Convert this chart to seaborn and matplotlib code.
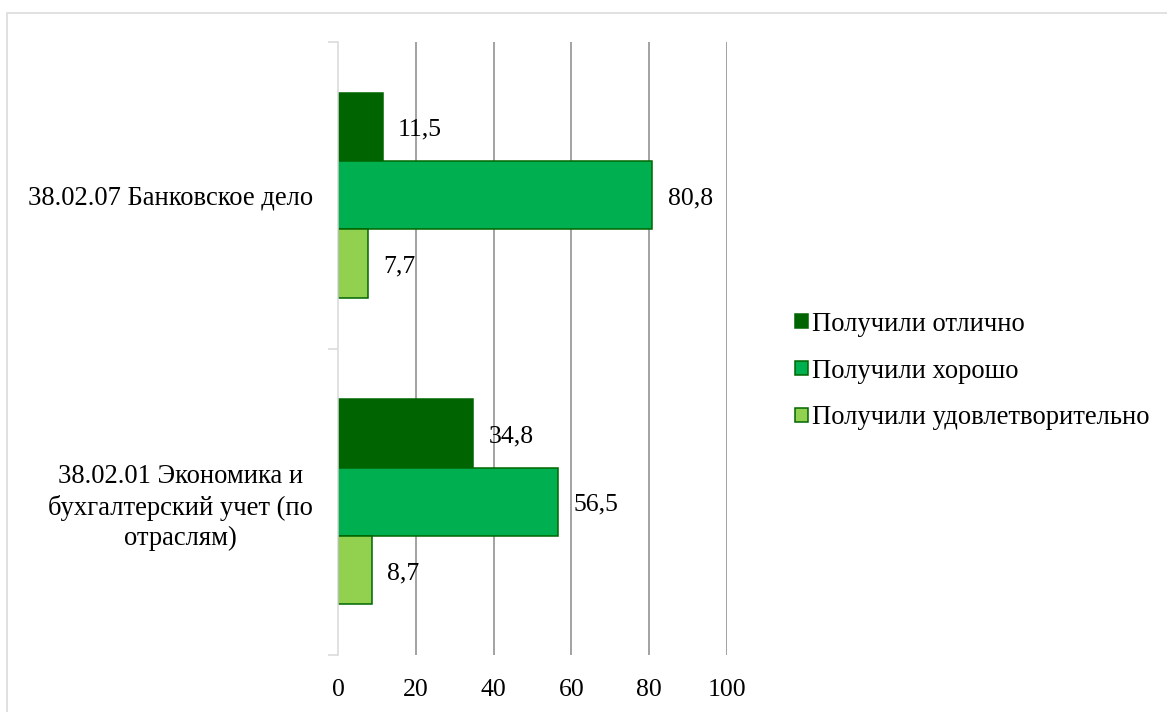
import pandas as pd
import matplotlib.pyplot as plt
import seaborn as sns
from matplotlib.patches import Rectangle
from matplotlib.ticker import FixedLocator

# ===== Data =====
categories = ["38.02.07 Банковское дело",
              "38.02.01 Экономика и\nбухгалтерский учет (по\nотраслям)"]
series = ["Получили отлично", "Получили хорошо", "Получили удовлетворительно"]
excellent = [11.5, 34.8]
good = [80.8, 56.5]
satisfactory = [7.7, 8.7]
colors = ["#006400", "#00B050", "#92D050"]
x_ticks = [0, 20, 40, 60, 80, 100]

rows = []
for name, vals in zip(series, [excellent, good, satisfactory]):
    for cat, v in zip(categories, vals):
        rows.append({"category": cat, "series": name, "value": v})
df = pd.DataFrame(rows)

sns.set_style("white")
plt.rcParams['font.family'] = ['Liberation Serif', 'DejaVu Serif']
plt.rcParams['text.color'] = 'black'
plt.rcParams['xtick.color'] = 'black'
plt.rcParams['ytick.color'] = 'black'
FS_NUM = 18.5
FS_TXT = 19.2

fig = plt.figure(figsize=(11.67, 7.12), dpi=100)
ax = fig.add_axes([338 / 1167, 57 / 712, 389 / 1167, 613 / 712])

sns.barplot(data=df, y="category", x="value", hue="series", orient="h",
            order=categories, hue_order=series, palette=colors, width=0.67,
            edgecolor="#006600", linewidth=1.1, saturation=1, ax=ax, zorder=3)

# value labels with comma decimals
for cont in ax.containers:
    labels = [f"{b.get_width():.1f}".replace(".", ",") for b in cont]
    anns = ax.bar_label(cont, labels=labels, padding=11, fontsize=FS_NUM, color="black")
    for t in anns:
        t.xyann = (t.xyann[0], t.xyann[1] - 2.2)

ax.set_xlim(0, 100)
ax.set_ylim(1.5, -0.5)
ax.set_xticks(x_ticks)
ax.set_xticklabels([str(t) for t in x_ticks], fontsize=FS_NUM)
ax.set_yticks(range(len(categories)))
ax.set_yticklabels(categories, fontsize=FS_TXT, multialignment="center", linespacing=1.29)
ax.yaxis.set_minor_locator(FixedLocator([-0.5, 0.5, 1.5]))
ax.tick_params(axis="y", which="major", left=False, pad=14.5)
ax.tick_params(axis="y", which="minor", left=True, length=7.5, width=1.1, color="#d9d9d9")
ax.tick_params(axis="x", length=0, pad=17)
ax.set_xlabel("")
ax.set_ylabel("")

ax.grid(axis="x", color="#898989", linewidth=1.1, zorder=0)
ax.get_xgridlines()[0].set_visible(False)
ax.set_axisbelow(True)
for s in ["top", "right", "bottom"]:
    ax.spines[s].set_visible(False)
ax.spines["left"].set_color("#d9d9d9")
ax.spines["left"].set_linewidth(1.1)
ax.spines["left"].set_zorder(4)

# legend on the right
handles, labels = ax.get_legend_handles_labels()
if ax.get_legend() is not None:
    ax.get_legend().remove()
fig.legend(handles, labels, loc="center left", bbox_to_anchor=(795 / 1167, 1 - 371 / 712),
           frameon=False, fontsize=FS_TXT, handlelength=0.47, handleheight=0.47,
           handletextpad=0.15, labelspacing=0.82, borderpad=0, borderaxespad=0)

# outer chart border
fig.add_artist(Rectangle((7 / 1167, -0.1), 1.2, 1.1 - 13 / 712, transform=fig.transFigure,
                         fill=False, edgecolor="#d9d9d9", linewidth=1.1))

plt.savefig("out.png", dpi=100)
plt.close()
